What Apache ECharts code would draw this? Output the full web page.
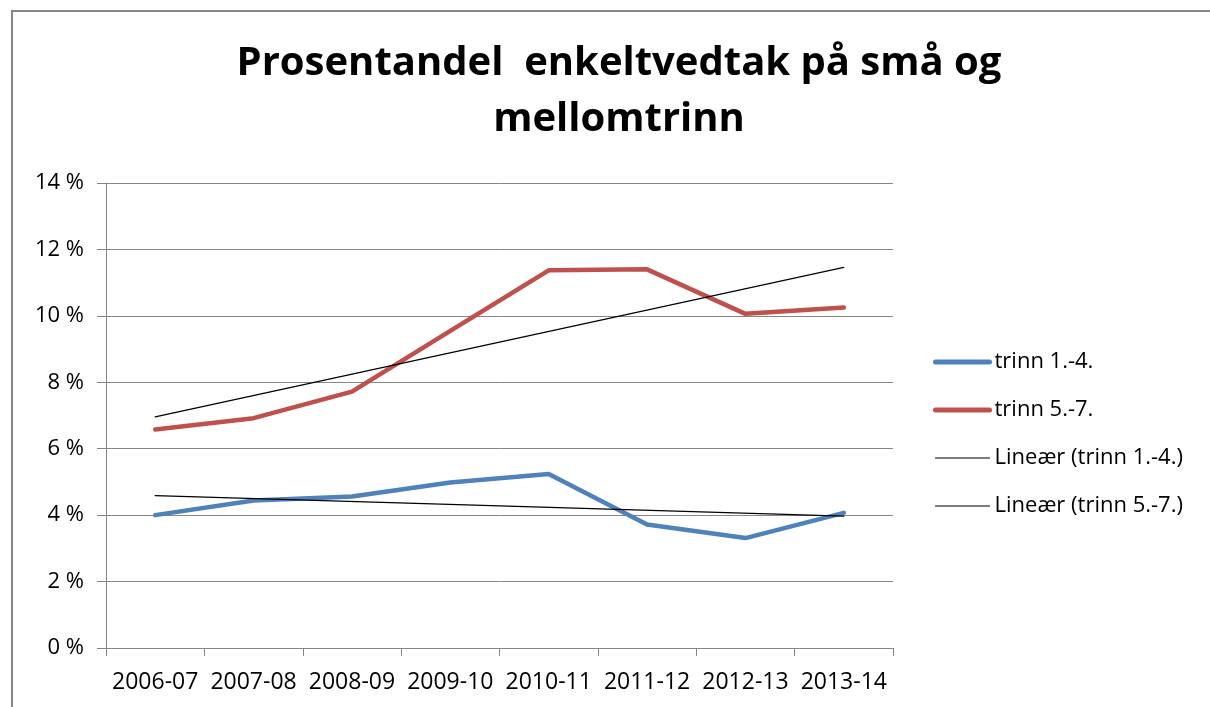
<!DOCTYPE html>
<html>
<head>
<meta charset="utf-8">
<script src="https://cdn.jsdelivr.net/npm/echarts@6/dist/echarts.min.js"></script>
<style>
  html, body { margin: 0; padding: 0; background: #fff; overflow: hidden; }
  #chart { position: absolute; left: 0; top: 0; width: 1210px; height: 707px; }
  /* ramme rundt diagrammet (bare venstre/topp synlig i utsnittet) */
  #frame { position: absolute; left: 11px; top: 10px; width: 1300px; height: 800px;
           border-left: 2px solid #868686; border-top: 2px solid #868686; pointer-events: none; }
</style>
</head>
<body>
<div id="chart"></div>
<div id="frame"></div>
<script>
// data lest av bildet
const years = ["2006-07", "2007-08", "2008-09", "2009-10", "2010-11", "2011-12", "2012-13", "2013-14"];
const trinn14 = [4.0, 4.44, 4.56, 4.98, 5.24, 3.72, 3.31, 4.07];
const trinn57 = [6.58, 6.92, 7.72, 9.55, 11.37, 11.4, 10.06, 10.25];
// trendlinjer: bare start- og sluttpunkt
const trend14 = [4.59, null, null, null, null, null, null, 3.97];
const trend57 = [6.96, null, null, null, null, null, null, 11.46];

const font = "'Open Sans', 'Noto Sans', sans-serif";
const grey = "#868686";

const chart = echarts.init(document.getElementById("chart"), null, { renderer: "canvas" });

const lineSeries = (name, data, color, width) => ({
  name: name,
  type: "line",
  data: data,
  symbol: "none",
  connectNulls: true,
  silent: true,
  lineStyle: { color: color, width: width, cap: "round", join: "round" },
  itemStyle: { color: color },
});

// legende-element med egen strektykkelse
const legendItem = (name, width) => ({ name: name, lineStyle: { width: width } });

chart.setOption({
  animation: false,
  backgroundColor: "#fff",
  title: {
    text: "Prosentandel  enkeltvedtak på små og\nmellomtrinn",
    left: 614,
    top: 31,
    textAlign: "center",
    textStyle: { fontFamily: font, fontSize: 40, fontWeight: "bold", color: "#000", lineHeight: 56 },
  },
  legend: {
    orient: "vertical",
    left: 933,
    top: 350,
    padding: 0,
    itemWidth: 54,
    itemHeight: 2,
    itemGap: 24,
    itemStyle: { opacity: 0 },
    textStyle: { fontFamily: font, fontSize: 22, color: "#000", lineHeight: 24 },
    data: [
      legendItem("trinn 1.-4.", 5),
      legendItem("trinn 5.-7.", 5),
      legendItem("Lineær (trinn 1.-4.)", 1.2),
      legendItem("Lineær (trinn 5.-7.)", 1.2),
    ],
  },
  grid: { left: 106, right: 317, top: 183, bottom: 59, containLabel: false },
  xAxis: {
    type: "category",
    data: years,
    boundaryGap: true,
    axisLine: { lineStyle: { color: grey, width: 1 } },
    axisTick: { show: true, length: 8, lineStyle: { color: grey } },
    axisLabel: { fontFamily: font, fontSize: 23, color: "#000", margin: 23, interval: 0 },
    splitLine: { show: false },
  },
  yAxis: {
    type: "value",
    min: 0,
    max: 14,
    interval: 2,
    axisLine: { show: true, lineStyle: { color: grey, width: 1 } },
    axisTick: { show: true, length: 9, lineStyle: { color: grey } },
    axisLabel: { fontFamily: font, fontSize: 22, color: "#000", margin: 22, formatter: (v) => v + " %" },
    splitLine: { show: true, lineStyle: { color: grey, width: 1 } },
  },
  series: [
    lineSeries("trinn 1.-4.", trinn14, "#4F81BD", 4.5),
    lineSeries("trinn 5.-7.", trinn57, "#C0504D", 4.5),
    lineSeries("Lineær (trinn 1.-4.)", trend14, "#000", 1.2),
    lineSeries("Lineær (trinn 5.-7.)", trend57, "#000", 1.2),
  ],
});
</script>
</body>
</html>
